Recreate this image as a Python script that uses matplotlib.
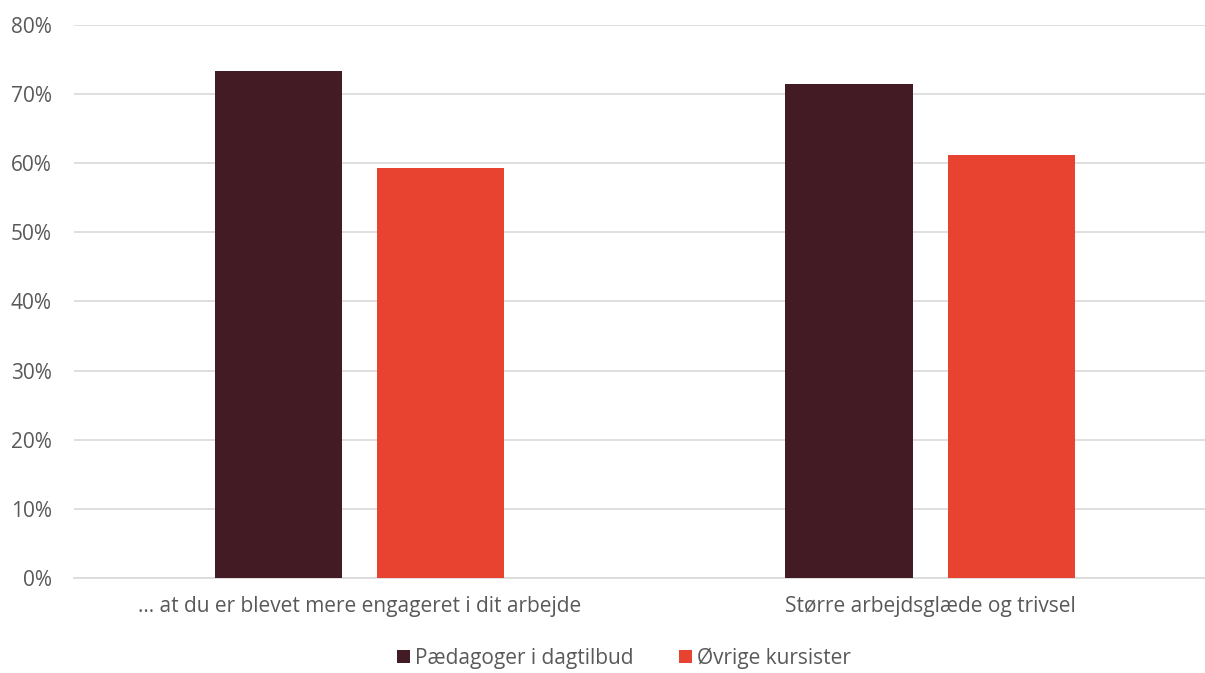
import matplotlib.pyplot as plt
import numpy as np

categories = ['... at du er blevet mere engageret i dit arbejde', 'Større arbejdsglæde og trivsel']
paedagoger = [73.3, 71.5]
oevrige = [59.3, 61.2]
series_names = ['Pædagoger i dagtilbud', 'Øvrige kursister']

plt.rcParams['font.family'] = ['Open Sans', 'DejaVu Sans']
txt = '#595959'

fig = plt.figure(figsize=(12.05, 6.73), dpi=100)
ax = fig.add_axes([0.0614, 0.1412, 0.9477, 0.8217])

x = np.arange(len(categories))
w = 0.224
off = 0.1419
ax.bar(x - off, paedagoger, w, color='#431b24', label=series_names[0], zorder=3)
ax.bar(x + off, oevrige, w, color='#e84330', label=series_names[1], zorder=3)

ax.set_xlim(-0.5, 1.5)
ax.set_ylim(0, 80)
ax.set_yticks(range(0, 81, 10))
ax.set_yticklabels([f'{v}%' for v in range(0, 81, 10)])
ax.set_xticks(x)
ax.set_xticklabels(categories)
ax.tick_params(axis='both', length=0, colors=txt, labelsize=15)
ax.tick_params(axis='x', pad=13)
ax.tick_params(axis='y', pad=16)
ax.grid(axis='y', color='#d9d9d9', linewidth=1.2, zorder=0)
for s in ['top', 'right', 'left']:
    ax.spines[s].set_visible(False)
ax.spines['bottom'].set_color('#d9d9d9')
ax.spines['bottom'].set_linewidth(1.2)

leg = fig.legend(loc='center', bbox_to_anchor=(0.518, 0.022), ncol=2, frameon=False,
                 fontsize=15, handlelength=0.6, handleheight=0.6, handletextpad=0.25,
                 columnspacing=2.2, borderpad=0)
for t in leg.get_texts():
    t.set_color(txt)

fig.savefig('out.png', dpi=100)
